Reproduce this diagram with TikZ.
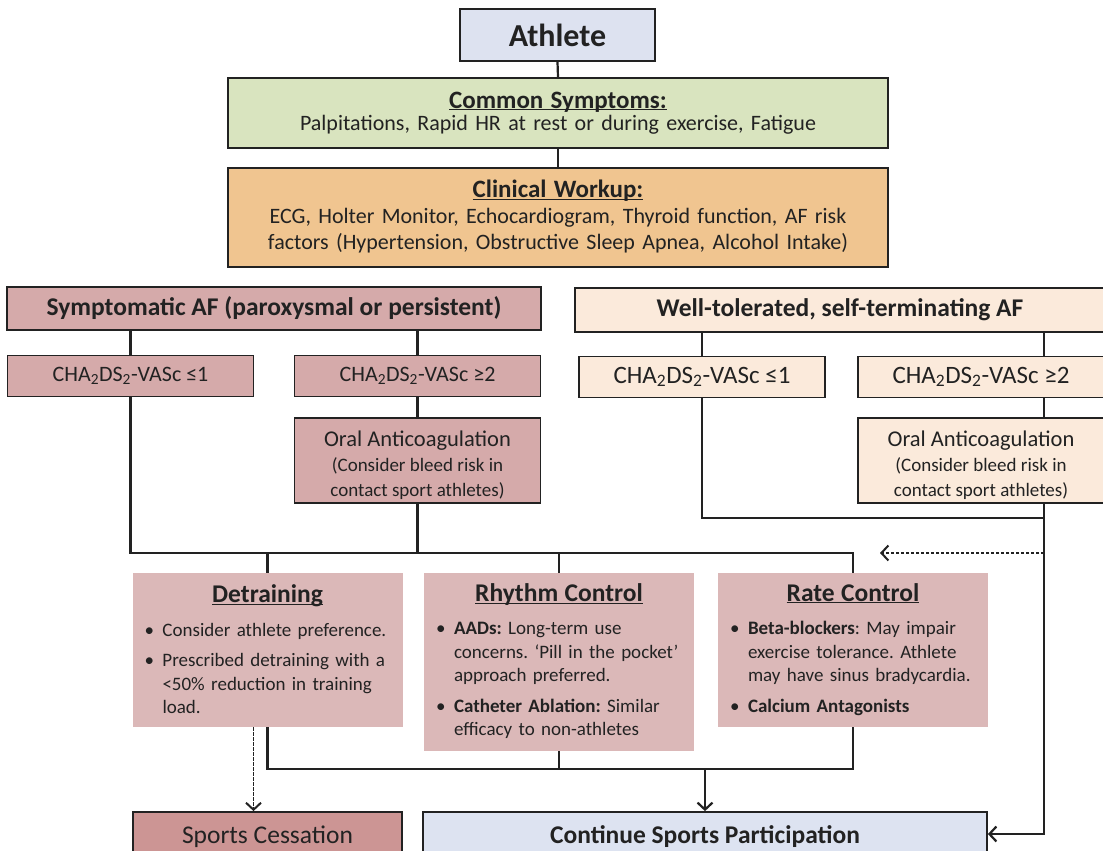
\documentclass[tikz,border=0pt]{standalone}
\usepackage{fontspec}
\setmainfont{Carlito}
\usetikzlibrary{arrows.meta}
\frenchspacing
\definecolor{athblue}{HTML}{DDE2F0}
\definecolor{symgreen}{HTML}{D9E4BF}
\definecolor{worktan}{HTML}{F0C590}
\definecolor{afrose}{HTML}{D5AAAA}
\definecolor{cardrose}{HTML}{DBB8B8}
\definecolor{peach}{HTML}{FBEADB}
\definecolor{cessrose}{HTML}{CC9594}
\definecolor{contblue}{HTML}{DDE3F1}
\definecolor{ink}{HTML}{222222}
\newcommand{\setfs}[2]{\fontsize{#1}{#2}\selectfont}
\newcommand{\bul}[1]{\par\hangindent=18pt\hangafter=1\noindent\makebox[18pt][l]{\textbullet}#1\par}
\newcommand{\cha}{CHA\textsubscript{2}DS\textsubscript{2}-VASc}
\newcommand{\ttl}[1]{\underline{\vphantom{A}\smash{#1}}}
\tikzset{
  box/.style={draw=ink, line width=1.8pt, align=center, inner sep=0pt, text=ink},
  card/.style={fill=cardrose, align=left, text width=#1, inner xsep=12pt, inner ysep=0pt, text=ink, font=\setfs{19}{23.5}},
  link/.style={draw=ink, line width=2.2pt},
  flow/.style={link, -{Straight Barb[length=7pt,width=15pt]}},
  hint/.style={draw=ink, line width=1.8pt, dash pattern=on 3.5pt off 1.5pt, -{Straight Barb[length=7pt,width=15pt,line width=2pt]}}
}

\begin{document}
\begin{tikzpicture}[x=1pt,y=-1pt]
    \useasboundingbox (0,0) rectangle (1103,851);
    \clip (0,0) rectangle (1103,851);
    \fill[white] (0,0) rectangle (1103,851);
    % top of the chart
    \node[box, fill=athblue, minimum width=195pt, minimum height=52pt, font=\setfs{32}{36}\bfseries] (athlete) at (557.5,35) {Athlete};
    \node[box, fill=symgreen, minimum width=660pt, minimum height=70pt, text width=640pt, font=\setfs{22}{22}] (symp) at (558,113)
        {{\setfs{25}{24}\bfseries\ttl{Common Symptoms:}}\\ Palpitations, Rapid HR at rest or during exercise, Fatigue};
    \node[box, fill=worktan, minimum width=660pt, minimum height=99pt, text width=640pt, font=\setfs{22}{26}] (work) at (558,217.5)
        {{\setfs{25}{28}\bfseries\ttl{Clinical Workup:}}\\ ECG, Holter Monitor, Echocardiogram, Thyroid function, AF risk\\ factors (Hypertension, Obstructive Sleep Apnea, Alcohol Intake)};
    % the two branches
    \node[box, fill=afrose, minimum width=534pt, minimum height=43pt, font=\setfs{25.5}{28}\bfseries] (symaf) at (274,308.5) {Symptomatic AF (paroxysmal or persistent)};
    \node[box, fill=peach, minimum width=530pt, minimum height=44pt, font=\setfs{25.5}{28}\bfseries] (welltol) at (840,310) {Well-tolerated, self-terminating AF};
    \foreach \pos/\name/\col/\size/\txt in {{(130.5,376)/loA/afrose/22/≤1}, {(417.5,376)/hiA/afrose/22/≥2},
                                          {(702,377)/loB/peach/25/≤1}, {(981,377)/hiB/peach/25/≥2}}
        \node[box, fill=\col, minimum width=246pt, minimum height=41pt, font=\setfs{\size}{26}] (\name) at \pos {\cha{} \txt};
    \foreach \pos/\name/\col in {{(417.5,460.5)/oralA/afrose}, {(981,460.5)/oralB/peach}}
        \node[box, fill=\col, minimum width=246pt, minimum height=85pt, font=\setfs{22.5}{23.5}] (\name) at \pos
            {\rule{0pt}{26pt}Oral Anticoagulation\\[1.5pt] {\setfs{19}{24}(Consider bleed risk in}\\[1.5pt] {\setfs{19}{24}contact sport athletes)}};
    % treatment options
    \node[card=246pt, minimum height=154pt] (detr) at (267.5,650) {%
        {\centering\setfs{25.5}{28}\bfseries\ttl{Detraining}\par}\vspace{10pt}
        \bul{Consider athlete preference.}\vspace{7pt}
        \bul{Prescribed detraining with a\newline <50\% reduction in training\newline load.}};
    \node[card=246pt, minimum height=178pt] (rhythm) at (559,662) {%
        {\centering\setfs{25.5}{28}\bfseries\ttl{Rhythm Control}\par}\vspace{10pt}
        \bul{\textbf{AADs:} Long-term use\newline concerns. ‘Pill in the pocket’\newline approach preferred.}\vspace{7pt}
        \bul{\textbf{Catheter Ablation:} Similar\newline efficacy to non-athletes}};
    \node[card=246pt, minimum height=154pt] (rate) at (853,650) {%
        {\centering\setfs{25.5}{28}\bfseries\ttl{Rate Control}\par}\vspace{10pt}
        \bul{\textbf{Beta-blockers}: May impair\newline exercise tolerance. Athlete\newline may have sinus bradycardia.}\vspace{7pt}
        \bul{\textbf{Calcium Antagonists}}};
    % outcomes
    \node[box, fill=cessrose, minimum width=269pt, minimum height=50pt, font=\setfs{25.5}{28}] (cess) at (267.5,837) {Sports Cessation};
    \node[box, fill=contblue, minimum width=564pt, minimum height=50pt, font=\setfs{25.5}{28}\bfseries] (cont) at (705,837) {Continue Sports Participation};
    % helper points
    \coordinate (busA) at (0,553);
    \coordinate (busB) at (0,769);
    \coordinate (busR) at (0,518);
    \coordinate (rx) at (1044,0);
    % connectors
    \foreach \source/\dest in {athlete/symp, symp/work, hiA/oralA}
        \path[link] (\source.south) -- (\dest.north);
    \foreach \dest in {loA, hiA}
        \path[link] (\dest.north |- symaf.south) -- (\dest.north);
    \path[link] (loB.north |- welltol.south) -- (loB.north);
    \path[link] (loA.south) -- (loA.south |- busA) -- (rate.north |- busA) -- (rate.north);
    \foreach \dest in {oralA.south, detr.north, rhythm.north}
        \path[link] (\dest) -- (\dest |- busA);
    \path[link] (detr.south) -- (detr.south |- busB) -- (rate.south |- busB) -- (rate.south);
    \path[link] (rhythm.south) -- (rhythm.south |- busB);
    \path[flow] (cont.north |- busB) -- (cont.north);
    \path[hint] ([xshift=-14pt]detr.south) -- ([xshift=-14pt]cess.north);
    \path[link] (rx |- welltol.south) -- (rx |- hiB.north);
    \path[link] (rx |- hiB.south) -- (rx |- oralB.north);
    \path[link] (loB.south) -- (loB.south |- busR) -- (rx |- busR);
    \path[flow] (rx |- oralB.south) -- ([yshift=3pt]rx |- cont.east) -- ([yshift=3pt]cont.east);
    \path[hint] (rx |- busA) -- ([xshift=-164pt]rx |- busA);
\end{tikzpicture}
\end{document}
